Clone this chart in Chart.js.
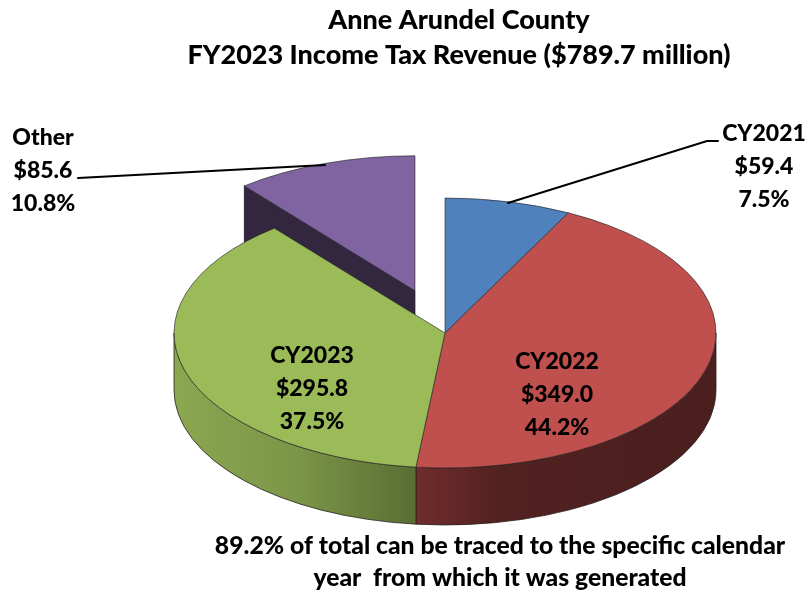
<!DOCTYPE html>
<html><head><meta charset="utf-8">
<style>html,body{margin:0;padding:0;background:#fff}canvas{display:block}</style>
<script src="https://cdn.jsdelivr.net/npm/chart.js@4"></script>
</head><body><canvas id="c" width="808" height="592"></canvas>
<script>
const categories = ['CY2021','CY2022','CY2023','Other'];
const amounts = [59.4,349.0,295.8,85.6];
const amountLabels = ['$59.4','$349.0','$295.8','$85.6'];
const percentLabels = ['7.5%','44.2%','37.5%','10.8%'];
const titleLines = ['Anne Arundel County','FY2023 Income Tax Revenue ($789.7 million)'];
const noteLines = ['89.2% of total can be traced to the specific calendar','year  from which it was generated'];
const sliceColors = ['#4F81BD','#C0504D','#9BBB59','#8064A2'];

const FONT = 'Lato, Carlito, sans-serif';
const CX = 445, CY = 333, RX = 271, SQUASH = 0.498, DEPTH = 57, EXPLODE = 90, EXPLODED = 3;
const RY = RX * SQUASH;
const labelSpots = [[764,134],[557,362],[312,356],[43,138]];
const LINE = 33;

const pie3d = {
  id:'pie3d',
  beforeDatasetsDraw(chart){
    const ctx = chart.ctx, arcs = chart.getDatasetMeta(0).data;
    const shift = a => {
      const mid = (a.startAngle + a.endAngle)/2;
      return [Math.cos(mid)*EXPLODE, Math.sin(mid)*EXPLODE*SQUASH];
    };
    // radial wall of the pulled-out slice
    const ex = arcs[EXPLODED], [dx,dy] = shift(ex);
    const ox = CX+dx, oy = CY+dy;
    const px = ox+Math.cos(ex.startAngle)*RX, py = oy+Math.sin(ex.startAngle)*RY;
    ctx.save();
    ctx.beginPath(); ctx.moveTo(px,py); ctx.lineTo(ox,oy); ctx.lineTo(ox,oy+DEPTH); ctx.lineTo(px,py+DEPTH); ctx.closePath();
    ctx.fillStyle = '#33273F'; ctx.fill();
    ctx.strokeStyle = '#1e1826'; ctx.lineWidth = 0.8; ctx.stroke();
    ctx.restore();
    // outer rim walls on the front half
    const rims = {1:[[0,'#702D2C'],[0.28,'#512120'],[1,'#4A1F1E']],2:[[0,'#8BA750'],[0.5,'#7C9649'],[1,'#596E33']]};
    Object.keys(rims).forEach(k=>{
      const a = arcs[k];
      const s = Math.max(a.startAngle, 0), e = Math.min(a.endAngle, Math.PI);
      if(e<=s) return;
      const g = ctx.createLinearGradient(CX+Math.cos(e)*RX,0,CX+Math.cos(s)*RX,0);
      rims[k].forEach(st=>g.addColorStop(st[0],st[1]));
      ctx.save();
      ctx.beginPath();
      ctx.ellipse(CX,CY,RX,RY,0,s,e,false);
      ctx.ellipse(CX,CY+DEPTH,RX,RY,0,e,s,true);
      ctx.closePath();
      ctx.fillStyle = g; ctx.fill();
      ctx.strokeStyle = '#2b2020'; ctx.lineWidth = 0.8; ctx.stroke();
      ctx.restore();
    });
    // top faces, drawn by the library's arc elements
    arcs.forEach((a,i)=>{
      ctx.save();
      ctx.translate(CX,CY);
      if(i===EXPLODED){ const [x,y]=shift(a); ctx.translate(x,y); }
      ctx.scale(1,SQUASH);
      ctx.translate(-a.x,-a.y);
      a.draw(ctx);
      ctx.restore();
    });
    return false;
  },
  afterDraw(chart){
    const ctx = chart.ctx;
    ctx.save();
    ctx.strokeStyle = '#000'; ctx.lineWidth = 2; ctx.lineCap='round';
    ctx.beginPath(); ctx.moveTo(78,178); ctx.lineTo(325,165); ctx.stroke();
    ctx.beginPath(); ctx.moveTo(718,141); ctx.lineTo(707,141); ctx.lineTo(508,203); ctx.stroke();
    ctx.fillStyle = '#000'; ctx.textAlign='center'; ctx.textBaseline='middle';
    ctx.font = '900 23px '+FONT;
    categories.forEach((c,i)=>{
      const [x,y] = labelSpots[i];
      ctx.fillText(c,x,y);
      ctx.fillText(amountLabels[i],x,y+LINE);
      ctx.fillText(percentLabels[i],x,y+2*LINE);
    });
    ctx.font = '900 24.7px '+FONT;
    noteLines.forEach((t,i)=>ctx.fillText(t,500,546+i*32));
    ctx.restore();
  }
};

new Chart(document.getElementById('c'),{
  type:'pie',
  data:{labels:categories,datasets:[{data:amounts,backgroundColor:sliceColors,borderColor:'rgba(35,35,35,0.85)',borderWidth:1}]},
  options:{
    responsive:false,animation:false,rotation:0,radius:RX,
    layout:{padding:{left:110,right:0,top:0,bottom:0}},
    plugins:{
      legend:{display:false},tooltip:{enabled:false},
      title:{display:true,text:titleLines,color:'#000',padding:{top:3,bottom:0},
        font:{family:FONT,size:27,weight:'900',lineHeight:1.3}}
    }
  },
  plugins:[pie3d]
});
</script></body></html>
